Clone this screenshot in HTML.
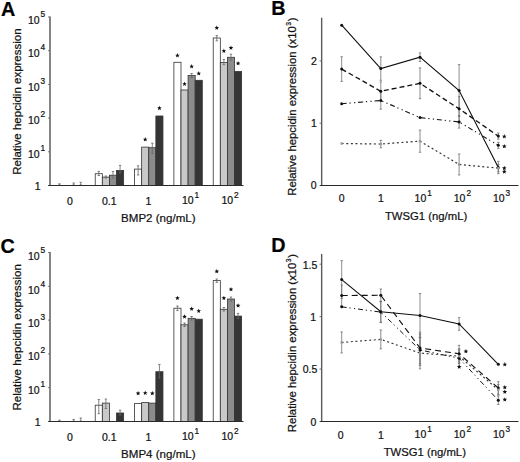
<!DOCTYPE html>
<html><head><meta charset="utf-8"><style>
html,body{margin:0;padding:0;background:#fff;}
svg{display:block;font-family:"Liberation Sans", sans-serif;}
text{stroke:#111;stroke-width:0.22px;paint-order:stroke;}
</style></head><body>
<svg width="520" height="462" viewBox="0 0 520 462">
<rect width="520" height="462" fill="#fff"/>
<text x="0.90" y="16.00" font-size="19.8" text-anchor="start" font-weight="bold" fill="#000" >A</text>
<text x="40.50" y="190.30" font-size="10.5" text-anchor="end" font-weight="normal" fill="#111" >1</text>
<line x1="48.00" y1="185.50" x2="50.00" y2="185.50" stroke="#555" stroke-width="0.8" />
<text x="39.60" y="158.00" font-size="10.5" text-anchor="end" font-weight="normal" fill="#111" >10</text>
<text x="40.50" y="151.10" font-size="8.3" text-anchor="start" font-weight="normal" fill="#111" >1</text>
<line x1="48.00" y1="151.80" x2="50.00" y2="151.80" stroke="#555" stroke-width="0.8" />
<text x="39.60" y="124.30" font-size="10.5" text-anchor="end" font-weight="normal" fill="#111" >10</text>
<text x="40.50" y="117.40" font-size="8.3" text-anchor="start" font-weight="normal" fill="#111" >2</text>
<line x1="48.00" y1="118.10" x2="50.00" y2="118.10" stroke="#555" stroke-width="0.8" />
<text x="39.60" y="90.60" font-size="10.5" text-anchor="end" font-weight="normal" fill="#111" >10</text>
<text x="40.50" y="83.70" font-size="8.3" text-anchor="start" font-weight="normal" fill="#111" >3</text>
<line x1="48.00" y1="84.40" x2="50.00" y2="84.40" stroke="#555" stroke-width="0.8" />
<text x="39.60" y="56.90" font-size="10.5" text-anchor="end" font-weight="normal" fill="#111" >10</text>
<text x="40.50" y="50.00" font-size="8.3" text-anchor="start" font-weight="normal" fill="#111" >4</text>
<line x1="48.00" y1="50.70" x2="50.00" y2="50.70" stroke="#555" stroke-width="0.8" />
<text x="39.60" y="24.10" font-size="10.5" text-anchor="end" font-weight="normal" fill="#111" >10</text>
<text x="40.50" y="17.20" font-size="8.3" text-anchor="start" font-weight="normal" fill="#111" >5</text>
<line x1="48.00" y1="17.00" x2="50.00" y2="17.00" stroke="#555" stroke-width="0.8" />
<text transform="translate(21.2,101.60) rotate(-90)" font-size="11.5" text-anchor="middle" fill="#111">Relative hepcidin expression</text>
<line x1="59.45" y1="183.80" x2="59.45" y2="185.00" stroke="#666" stroke-width="0.8" />
<line x1="58.25" y1="183.80" x2="60.65" y2="183.80" stroke="#666" stroke-width="0.8" />
<line x1="58.25" y1="185.00" x2="60.65" y2="185.00" stroke="#666" stroke-width="0.8" />
<line x1="73.65" y1="183.00" x2="73.65" y2="185.00" stroke="#666" stroke-width="0.8" />
<line x1="72.45" y1="183.00" x2="74.85" y2="183.00" stroke="#666" stroke-width="0.8" />
<line x1="72.45" y1="185.00" x2="74.85" y2="185.00" stroke="#666" stroke-width="0.8" />
<line x1="80.75" y1="182.30" x2="80.75" y2="185.00" stroke="#666" stroke-width="0.8" />
<line x1="79.55" y1="182.30" x2="81.95" y2="182.30" stroke="#666" stroke-width="0.8" />
<line x1="79.55" y1="185.00" x2="81.95" y2="185.00" stroke="#666" stroke-width="0.8" />
<rect x="95.23" y="173.70" width="7.10" height="11.80" fill="#ffffff" stroke="#333" stroke-width="0.8"/>
<line x1="98.78" y1="171.40" x2="98.78" y2="175.50" stroke="#666" stroke-width="0.8" />
<line x1="97.58" y1="171.40" x2="99.98" y2="171.40" stroke="#666" stroke-width="0.8" />
<line x1="97.58" y1="175.50" x2="99.98" y2="175.50" stroke="#666" stroke-width="0.8" />
<rect x="102.33" y="177.10" width="7.10" height="8.40" fill="#c9c9c9" stroke="#333" stroke-width="0.8"/>
<line x1="105.88" y1="176.00" x2="105.88" y2="178.00" stroke="#666" stroke-width="0.8" />
<line x1="104.68" y1="176.00" x2="107.08" y2="176.00" stroke="#666" stroke-width="0.8" />
<line x1="104.68" y1="178.00" x2="107.08" y2="178.00" stroke="#666" stroke-width="0.8" />
<rect x="109.43" y="175.20" width="7.10" height="10.30" fill="#8c8c8c" stroke="#333" stroke-width="0.8"/>
<line x1="112.98" y1="171.50" x2="112.98" y2="178.00" stroke="#666" stroke-width="0.8" />
<line x1="111.78" y1="171.50" x2="114.18" y2="171.50" stroke="#666" stroke-width="0.8" />
<line x1="111.78" y1="178.00" x2="114.18" y2="178.00" stroke="#666" stroke-width="0.8" />
<rect x="116.53" y="170.40" width="7.10" height="15.10" fill="#353535" stroke="#333" stroke-width="0.8"/>
<line x1="120.08" y1="165.40" x2="120.08" y2="173.00" stroke="#666" stroke-width="0.8" />
<line x1="118.88" y1="165.40" x2="121.28" y2="165.40" stroke="#666" stroke-width="0.8" />
<line x1="118.88" y1="173.00" x2="121.28" y2="173.00" stroke="#666" stroke-width="0.8" />
<rect x="134.56" y="169.10" width="7.10" height="16.40" fill="#ffffff" stroke="#333" stroke-width="0.8"/>
<line x1="138.11" y1="165.80" x2="138.11" y2="175.00" stroke="#666" stroke-width="0.8" />
<line x1="136.91" y1="165.80" x2="139.31" y2="165.80" stroke="#666" stroke-width="0.8" />
<line x1="136.91" y1="175.00" x2="139.31" y2="175.00" stroke="#666" stroke-width="0.8" />
<rect x="141.66" y="147.10" width="7.10" height="38.40" fill="#c9c9c9" stroke="#333" stroke-width="0.8"/>
<polygon points="145.21,137.10 145.84,138.63 147.49,138.76 146.24,139.83 146.62,141.44 145.21,140.58 143.80,141.44 144.18,139.83 142.93,138.76 144.58,138.63" fill="#111"/>
<rect x="148.76" y="147.70" width="7.10" height="37.80" fill="#8c8c8c" stroke="#333" stroke-width="0.8"/>
<line x1="152.31" y1="143.20" x2="152.31" y2="153.50" stroke="#666" stroke-width="0.8" />
<line x1="151.11" y1="143.20" x2="153.51" y2="143.20" stroke="#666" stroke-width="0.8" />
<line x1="151.11" y1="153.50" x2="153.51" y2="153.50" stroke="#666" stroke-width="0.8" />
<rect x="155.86" y="116.00" width="7.10" height="69.50" fill="#353535" stroke="#333" stroke-width="0.8"/>
<polygon points="159.41,105.80 160.04,107.33 161.69,107.46 160.44,108.53 160.82,110.14 159.41,109.28 158.00,110.14 158.38,108.53 157.13,107.46 158.78,107.33" fill="#111"/>
<rect x="173.89" y="62.30" width="7.10" height="123.20" fill="#ffffff" stroke="#333" stroke-width="0.8"/>
<polygon points="177.44,53.10 178.07,54.63 179.72,54.76 178.47,55.83 178.85,57.44 177.44,56.58 176.03,57.44 176.41,55.83 175.16,54.76 176.81,54.63" fill="#111"/>
<rect x="180.99" y="90.00" width="7.10" height="95.50" fill="#c9c9c9" stroke="#333" stroke-width="0.8"/>
<polygon points="184.54,81.60 185.17,83.13 186.82,83.26 185.57,84.33 185.95,85.94 184.54,85.08 183.13,85.94 183.51,84.33 182.26,83.26 183.91,83.13" fill="#111"/>
<rect x="188.09" y="75.40" width="7.10" height="110.10" fill="#8c8c8c" stroke="#333" stroke-width="0.8"/>
<line x1="191.64" y1="73.50" x2="191.64" y2="77.50" stroke="#666" stroke-width="0.8" />
<line x1="190.44" y1="73.50" x2="192.84" y2="73.50" stroke="#666" stroke-width="0.8" />
<line x1="190.44" y1="77.50" x2="192.84" y2="77.50" stroke="#666" stroke-width="0.8" />
<polygon points="191.64,64.10 192.27,65.63 193.92,65.76 192.67,66.83 193.05,68.44 191.64,67.58 190.23,68.44 190.61,66.83 189.36,65.76 191.01,65.63" fill="#111"/>
<rect x="195.19" y="80.30" width="7.10" height="105.20" fill="#353535" stroke="#333" stroke-width="0.8"/>
<polygon points="198.74,71.10 199.37,72.63 201.02,72.76 199.77,73.83 200.15,75.44 198.74,74.58 197.33,75.44 197.71,73.83 196.46,72.76 198.11,72.63" fill="#111"/>
<rect x="213.22" y="38.00" width="7.10" height="147.50" fill="#ffffff" stroke="#333" stroke-width="0.8"/>
<line x1="216.77" y1="35.60" x2="216.77" y2="40.80" stroke="#666" stroke-width="0.8" />
<line x1="215.57" y1="35.60" x2="217.97" y2="35.60" stroke="#666" stroke-width="0.8" />
<line x1="215.57" y1="40.80" x2="217.97" y2="40.80" stroke="#666" stroke-width="0.8" />
<polygon points="216.77,25.50 217.40,27.03 219.05,27.16 217.80,28.23 218.18,29.84 216.77,28.98 215.36,29.84 215.74,28.23 214.49,27.16 216.14,27.03" fill="#111"/>
<rect x="220.32" y="62.50" width="7.10" height="123.00" fill="#c9c9c9" stroke="#333" stroke-width="0.8"/>
<line x1="223.87" y1="59.50" x2="223.87" y2="64.70" stroke="#666" stroke-width="0.8" />
<line x1="222.67" y1="59.50" x2="225.07" y2="59.50" stroke="#666" stroke-width="0.8" />
<line x1="222.67" y1="64.70" x2="225.07" y2="64.70" stroke="#666" stroke-width="0.8" />
<polygon points="223.87,48.60 224.50,50.13 226.15,50.26 224.90,51.33 225.28,52.94 223.87,52.08 222.46,52.94 222.84,51.33 221.59,50.26 223.24,50.13" fill="#111"/>
<rect x="227.42" y="57.30" width="7.10" height="128.20" fill="#8c8c8c" stroke="#333" stroke-width="0.8"/>
<line x1="230.97" y1="54.20" x2="230.97" y2="60.00" stroke="#666" stroke-width="0.8" />
<line x1="229.77" y1="54.20" x2="232.17" y2="54.20" stroke="#666" stroke-width="0.8" />
<line x1="229.77" y1="60.00" x2="232.17" y2="60.00" stroke="#666" stroke-width="0.8" />
<polygon points="230.97,45.40 231.60,46.93 233.25,47.06 232.00,48.13 232.38,49.74 230.97,48.88 229.56,49.74 229.94,48.13 228.69,47.06 230.34,46.93" fill="#111"/>
<rect x="234.52" y="71.50" width="7.10" height="114.00" fill="#353535" stroke="#333" stroke-width="0.8"/>
<polygon points="238.07,61.00 238.70,62.53 240.35,62.66 239.10,63.73 239.48,65.34 238.07,64.48 236.66,65.34 237.04,63.73 235.79,62.66 237.44,62.53" fill="#111"/>
<line x1="50.00" y1="16.50" x2="50.00" y2="185.80" stroke="#707070" stroke-width="1.7" />
<line x1="48.30" y1="185.50" x2="243.50" y2="185.50" stroke="#2a2a2a" stroke-width="1.05" />
<text x="69.90" y="204.70" font-size="10.5" text-anchor="middle" font-weight="normal" fill="#111" >0</text>
<text x="109.30" y="204.70" font-size="10.5" text-anchor="middle" font-weight="normal" fill="#111" >0.1</text>
<text x="148.30" y="204.70" font-size="10.5" text-anchor="middle" font-weight="normal" fill="#111" >1</text>
<text x="193.60" y="204.20" font-size="10.5" text-anchor="end" font-weight="normal" fill="#111" >10</text>
<text x="194.60" y="198.00" font-size="8.3" text-anchor="start" font-weight="normal" fill="#111" >1</text>
<text x="233.10" y="204.20" font-size="10.5" text-anchor="end" font-weight="normal" fill="#111" >10</text>
<text x="234.10" y="198.00" font-size="8.3" text-anchor="start" font-weight="normal" fill="#111" >2</text>
<text x="158.30" y="221.90" font-size="11.55" text-anchor="middle" font-weight="normal" fill="#111" >BMP2 (ng/mL)</text>
<text x="0.50" y="253.00" font-size="19.8" text-anchor="start" font-weight="bold" fill="#000" >C</text>
<text x="40.50" y="426.30" font-size="10.5" text-anchor="end" font-weight="normal" fill="#111" >1</text>
<line x1="48.00" y1="421.50" x2="50.00" y2="421.50" stroke="#555" stroke-width="0.8" />
<text x="39.60" y="393.90" font-size="10.5" text-anchor="end" font-weight="normal" fill="#111" >10</text>
<text x="40.50" y="387.00" font-size="8.3" text-anchor="start" font-weight="normal" fill="#111" >1</text>
<line x1="48.00" y1="387.70" x2="50.00" y2="387.70" stroke="#555" stroke-width="0.8" />
<text x="39.60" y="360.10" font-size="10.5" text-anchor="end" font-weight="normal" fill="#111" >10</text>
<text x="40.50" y="353.20" font-size="8.3" text-anchor="start" font-weight="normal" fill="#111" >2</text>
<line x1="48.00" y1="353.90" x2="50.00" y2="353.90" stroke="#555" stroke-width="0.8" />
<text x="39.60" y="326.80" font-size="10.5" text-anchor="end" font-weight="normal" fill="#111" >10</text>
<text x="40.50" y="319.90" font-size="8.3" text-anchor="start" font-weight="normal" fill="#111" >3</text>
<line x1="48.00" y1="320.10" x2="50.00" y2="320.10" stroke="#555" stroke-width="0.8" />
<text x="39.60" y="294.10" font-size="10.5" text-anchor="end" font-weight="normal" fill="#111" >10</text>
<text x="40.50" y="287.20" font-size="8.3" text-anchor="start" font-weight="normal" fill="#111" >4</text>
<line x1="48.00" y1="286.30" x2="50.00" y2="286.30" stroke="#555" stroke-width="0.8" />
<text x="39.60" y="260.10" font-size="10.5" text-anchor="end" font-weight="normal" fill="#111" >10</text>
<text x="40.50" y="253.20" font-size="8.3" text-anchor="start" font-weight="normal" fill="#111" >5</text>
<line x1="48.00" y1="252.50" x2="50.00" y2="252.50" stroke="#555" stroke-width="0.8" />
<text transform="translate(21.2,337.35) rotate(-90)" font-size="11.5" text-anchor="middle" fill="#111">Relative hepcidin expression</text>
<line x1="59.45" y1="420.20" x2="59.45" y2="421.20" stroke="#666" stroke-width="0.8" />
<line x1="58.25" y1="420.20" x2="60.65" y2="420.20" stroke="#666" stroke-width="0.8" />
<line x1="58.25" y1="421.20" x2="60.65" y2="421.20" stroke="#666" stroke-width="0.8" />
<line x1="73.65" y1="419.50" x2="73.65" y2="421.20" stroke="#666" stroke-width="0.8" />
<line x1="72.45" y1="419.50" x2="74.85" y2="419.50" stroke="#666" stroke-width="0.8" />
<line x1="72.45" y1="421.20" x2="74.85" y2="421.20" stroke="#666" stroke-width="0.8" />
<line x1="80.75" y1="418.00" x2="80.75" y2="421.20" stroke="#666" stroke-width="0.8" />
<line x1="79.55" y1="418.00" x2="81.95" y2="418.00" stroke="#666" stroke-width="0.8" />
<line x1="79.55" y1="421.20" x2="81.95" y2="421.20" stroke="#666" stroke-width="0.8" />
<rect x="95.23" y="405.20" width="7.10" height="16.30" fill="#ffffff" stroke="#333" stroke-width="0.8"/>
<line x1="98.78" y1="399.50" x2="98.78" y2="413.70" stroke="#666" stroke-width="0.8" />
<line x1="97.58" y1="399.50" x2="99.98" y2="399.50" stroke="#666" stroke-width="0.8" />
<line x1="97.58" y1="413.70" x2="99.98" y2="413.70" stroke="#666" stroke-width="0.8" />
<rect x="102.33" y="403.10" width="7.10" height="18.40" fill="#c9c9c9" stroke="#333" stroke-width="0.8"/>
<line x1="105.88" y1="399.00" x2="105.88" y2="408.50" stroke="#666" stroke-width="0.8" />
<line x1="104.68" y1="399.00" x2="107.08" y2="399.00" stroke="#666" stroke-width="0.8" />
<line x1="104.68" y1="408.50" x2="107.08" y2="408.50" stroke="#666" stroke-width="0.8" />
<rect x="116.53" y="413.00" width="7.10" height="8.50" fill="#353535" stroke="#333" stroke-width="0.8"/>
<line x1="120.08" y1="410.20" x2="120.08" y2="415.00" stroke="#666" stroke-width="0.8" />
<line x1="118.88" y1="410.20" x2="121.28" y2="410.20" stroke="#666" stroke-width="0.8" />
<line x1="118.88" y1="415.00" x2="121.28" y2="415.00" stroke="#666" stroke-width="0.8" />
<rect x="134.56" y="403.60" width="7.10" height="17.90" fill="#ffffff" stroke="#333" stroke-width="0.8"/>
<polygon points="138.11,390.90 138.74,392.43 140.39,392.56 139.14,393.63 139.52,395.24 138.11,394.38 136.70,395.24 137.08,393.63 135.83,392.56 137.48,392.43" fill="#111"/>
<rect x="141.66" y="402.60" width="7.10" height="18.90" fill="#c9c9c9" stroke="#333" stroke-width="0.8"/>
<polygon points="145.21,390.60 145.84,392.13 147.49,392.26 146.24,393.33 146.62,394.94 145.21,394.08 143.80,394.94 144.18,393.33 142.93,392.26 144.58,392.13" fill="#111"/>
<rect x="148.76" y="403.10" width="7.10" height="18.40" fill="#8c8c8c" stroke="#333" stroke-width="0.8"/>
<polygon points="152.31,390.90 152.94,392.43 154.59,392.56 153.34,393.63 153.72,395.24 152.31,394.38 150.90,395.24 151.28,393.63 150.03,392.56 151.68,392.43" fill="#111"/>
<rect x="155.86" y="371.70" width="7.10" height="49.80" fill="#353535" stroke="#333" stroke-width="0.8"/>
<line x1="159.41" y1="364.40" x2="159.41" y2="378.00" stroke="#666" stroke-width="0.8" />
<line x1="158.21" y1="364.40" x2="160.61" y2="364.40" stroke="#666" stroke-width="0.8" />
<line x1="158.21" y1="378.00" x2="160.61" y2="378.00" stroke="#666" stroke-width="0.8" />
<rect x="173.89" y="308.20" width="7.10" height="113.30" fill="#ffffff" stroke="#333" stroke-width="0.8"/>
<line x1="177.44" y1="306.00" x2="177.44" y2="310.60" stroke="#666" stroke-width="0.8" />
<line x1="176.24" y1="306.00" x2="178.64" y2="306.00" stroke="#666" stroke-width="0.8" />
<line x1="176.24" y1="310.60" x2="178.64" y2="310.60" stroke="#666" stroke-width="0.8" />
<polygon points="177.44,295.70 178.07,297.23 179.72,297.36 178.47,298.43 178.85,300.04 177.44,299.18 176.03,300.04 176.41,298.43 175.16,297.36 176.81,297.23" fill="#111"/>
<rect x="180.99" y="324.80" width="7.10" height="96.70" fill="#c9c9c9" stroke="#333" stroke-width="0.8"/>
<line x1="184.54" y1="323.00" x2="184.54" y2="326.50" stroke="#666" stroke-width="0.8" />
<line x1="183.34" y1="323.00" x2="185.74" y2="323.00" stroke="#666" stroke-width="0.8" />
<line x1="183.34" y1="326.50" x2="185.74" y2="326.50" stroke="#666" stroke-width="0.8" />
<polygon points="184.54,314.30 185.17,315.83 186.82,315.96 185.57,317.03 185.95,318.64 184.54,317.78 183.13,318.64 183.51,317.03 182.26,315.96 183.91,315.83" fill="#111"/>
<rect x="188.09" y="318.30" width="7.10" height="103.20" fill="#8c8c8c" stroke="#333" stroke-width="0.8"/>
<line x1="191.64" y1="316.50" x2="191.64" y2="320.00" stroke="#666" stroke-width="0.8" />
<line x1="190.44" y1="316.50" x2="192.84" y2="316.50" stroke="#666" stroke-width="0.8" />
<line x1="190.44" y1="320.00" x2="192.84" y2="320.00" stroke="#666" stroke-width="0.8" />
<polygon points="191.64,306.40 192.27,307.93 193.92,308.06 192.67,309.13 193.05,310.74 191.64,309.88 190.23,310.74 190.61,309.13 189.36,308.06 191.01,307.93" fill="#111"/>
<rect x="195.19" y="319.20" width="7.10" height="102.30" fill="#353535" stroke="#333" stroke-width="0.8"/>
<polygon points="198.74,308.60 199.37,310.13 201.02,310.26 199.77,311.33 200.15,312.94 198.74,312.08 197.33,312.94 197.71,311.33 196.46,310.26 198.11,310.13" fill="#111"/>
<rect x="213.22" y="280.60" width="7.10" height="140.90" fill="#ffffff" stroke="#333" stroke-width="0.8"/>
<line x1="216.77" y1="279.00" x2="216.77" y2="282.40" stroke="#666" stroke-width="0.8" />
<line x1="215.57" y1="279.00" x2="217.97" y2="279.00" stroke="#666" stroke-width="0.8" />
<line x1="215.57" y1="282.40" x2="217.97" y2="282.40" stroke="#666" stroke-width="0.8" />
<polygon points="216.77,269.00 217.40,270.53 219.05,270.66 217.80,271.73 218.18,273.34 216.77,272.48 215.36,273.34 215.74,271.73 214.49,270.66 216.14,270.53" fill="#111"/>
<rect x="220.32" y="309.30" width="7.10" height="112.20" fill="#c9c9c9" stroke="#333" stroke-width="0.8"/>
<line x1="223.87" y1="307.50" x2="223.87" y2="311.00" stroke="#666" stroke-width="0.8" />
<line x1="222.67" y1="307.50" x2="225.07" y2="307.50" stroke="#666" stroke-width="0.8" />
<line x1="222.67" y1="311.00" x2="225.07" y2="311.00" stroke="#666" stroke-width="0.8" />
<polygon points="223.87,295.70 224.50,297.23 226.15,297.36 224.90,298.43 225.28,300.04 223.87,299.18 222.46,300.04 222.84,298.43 221.59,297.36 223.24,297.23" fill="#111"/>
<rect x="227.42" y="299.00" width="7.10" height="122.50" fill="#8c8c8c" stroke="#333" stroke-width="0.8"/>
<line x1="230.97" y1="297.00" x2="230.97" y2="301.00" stroke="#666" stroke-width="0.8" />
<line x1="229.77" y1="297.00" x2="232.17" y2="297.00" stroke="#666" stroke-width="0.8" />
<line x1="229.77" y1="301.00" x2="232.17" y2="301.00" stroke="#666" stroke-width="0.8" />
<polygon points="230.97,287.00 231.60,288.53 233.25,288.66 232.00,289.73 232.38,291.34 230.97,290.48 229.56,291.34 229.94,289.73 228.69,288.66 230.34,288.53" fill="#111"/>
<rect x="234.52" y="316.10" width="7.10" height="105.40" fill="#353535" stroke="#333" stroke-width="0.8"/>
<line x1="238.07" y1="313.40" x2="238.07" y2="318.50" stroke="#666" stroke-width="0.8" />
<line x1="236.87" y1="313.40" x2="239.27" y2="313.40" stroke="#666" stroke-width="0.8" />
<line x1="236.87" y1="318.50" x2="239.27" y2="318.50" stroke="#666" stroke-width="0.8" />
<polygon points="238.07,303.20 238.70,304.73 240.35,304.86 239.10,305.93 239.48,307.54 238.07,306.68 236.66,307.54 237.04,305.93 235.79,304.86 237.44,304.73" fill="#111"/>
<line x1="50.00" y1="252.00" x2="50.00" y2="421.80" stroke="#707070" stroke-width="1.7" />
<line x1="48.30" y1="421.50" x2="243.50" y2="421.50" stroke="#2a2a2a" stroke-width="1.05" />
<text x="69.90" y="440.70" font-size="10.5" text-anchor="middle" font-weight="normal" fill="#111" >0</text>
<text x="109.30" y="440.70" font-size="10.5" text-anchor="middle" font-weight="normal" fill="#111" >0.1</text>
<text x="148.30" y="440.70" font-size="10.5" text-anchor="middle" font-weight="normal" fill="#111" >1</text>
<text x="193.60" y="440.20" font-size="10.5" text-anchor="end" font-weight="normal" fill="#111" >10</text>
<text x="194.60" y="434.00" font-size="8.3" text-anchor="start" font-weight="normal" fill="#111" >1</text>
<text x="233.10" y="440.20" font-size="10.5" text-anchor="end" font-weight="normal" fill="#111" >10</text>
<text x="234.10" y="434.00" font-size="8.3" text-anchor="start" font-weight="normal" fill="#111" >2</text>
<text x="158.30" y="458.40" font-size="11.55" text-anchor="middle" font-weight="normal" fill="#111" >BMP4 (ng/mL)</text>
<text x="271.20" y="14.80" font-size="19.8" text-anchor="start" font-weight="bold" fill="#000" >B</text>
<text x="316.60" y="189.30" font-size="10.5" text-anchor="end" font-weight="normal" fill="#111" >0</text>
<line x1="319.50" y1="185.50" x2="321.50" y2="185.50" stroke="#555" stroke-width="0.8" />
<text x="316.80" y="127.00" font-size="10.5" text-anchor="end" font-weight="normal" fill="#111" >1</text>
<line x1="319.50" y1="123.20" x2="321.50" y2="123.20" stroke="#555" stroke-width="0.8" />
<text x="316.90" y="64.70" font-size="10.5" text-anchor="end" font-weight="normal" fill="#111" >2</text>
<line x1="319.50" y1="60.90" x2="321.50" y2="60.90" stroke="#555" stroke-width="0.8" />
<text transform="translate(295.5,106.65) rotate(-90)" font-size="11.35" text-anchor="middle" fill="#111">Relative hepcidin expression (x10<tspan font-size="6.8" dx="0.4" dy="-4.3">3</tspan><tspan dx="0.6" dy="4.3">)</tspan></text>
<line x1="380.80" y1="56.88" x2="380.80" y2="80.30" stroke="#707070" stroke-width="0.8" />
<line x1="379.60" y1="56.88" x2="382.00" y2="56.88" stroke="#707070" stroke-width="0.8" />
<line x1="379.60" y1="80.30" x2="382.00" y2="80.30" stroke="#707070" stroke-width="0.8" />
<line x1="420.00" y1="52.87" x2="420.00" y2="61.50" stroke="#707070" stroke-width="0.8" />
<line x1="418.80" y1="52.87" x2="421.20" y2="52.87" stroke="#707070" stroke-width="0.8" />
<line x1="418.80" y1="61.50" x2="421.20" y2="61.50" stroke="#707070" stroke-width="0.8" />
<line x1="459.10" y1="64.58" x2="459.10" y2="116.37" stroke="#707070" stroke-width="0.8" />
<line x1="457.90" y1="64.58" x2="460.30" y2="64.58" stroke="#707070" stroke-width="0.8" />
<line x1="457.90" y1="116.37" x2="460.30" y2="116.37" stroke="#707070" stroke-width="0.8" />
<line x1="498.30" y1="161.37" x2="498.30" y2="173.70" stroke="#707070" stroke-width="0.8" />
<line x1="497.10" y1="161.37" x2="499.50" y2="161.37" stroke="#707070" stroke-width="0.8" />
<line x1="497.10" y1="173.70" x2="499.50" y2="173.70" stroke="#707070" stroke-width="0.8" />
<line x1="341.70" y1="56.75" x2="341.70" y2="81.41" stroke="#707070" stroke-width="0.8" />
<line x1="340.50" y1="56.75" x2="342.90" y2="56.75" stroke="#707070" stroke-width="0.8" />
<line x1="340.50" y1="81.41" x2="342.90" y2="81.41" stroke="#707070" stroke-width="0.8" />
<line x1="380.80" y1="81.97" x2="380.80" y2="100.46" stroke="#707070" stroke-width="0.8" />
<line x1="379.60" y1="81.97" x2="382.00" y2="81.97" stroke="#707070" stroke-width="0.8" />
<line x1="379.60" y1="100.46" x2="382.00" y2="100.46" stroke="#707070" stroke-width="0.8" />
<line x1="420.00" y1="67.91" x2="420.00" y2="98.74" stroke="#707070" stroke-width="0.8" />
<line x1="418.80" y1="67.91" x2="421.20" y2="67.91" stroke="#707070" stroke-width="0.8" />
<line x1="418.80" y1="98.74" x2="421.20" y2="98.74" stroke="#707070" stroke-width="0.8" />
<line x1="459.10" y1="96.46" x2="459.10" y2="121.12" stroke="#707070" stroke-width="0.8" />
<line x1="457.90" y1="96.46" x2="460.30" y2="96.46" stroke="#707070" stroke-width="0.8" />
<line x1="457.90" y1="121.12" x2="460.30" y2="121.12" stroke="#707070" stroke-width="0.8" />
<line x1="498.30" y1="133.01" x2="498.30" y2="139.18" stroke="#707070" stroke-width="0.8" />
<line x1="497.10" y1="133.01" x2="499.50" y2="133.01" stroke="#707070" stroke-width="0.8" />
<line x1="497.10" y1="139.18" x2="499.50" y2="139.18" stroke="#707070" stroke-width="0.8" />
<line x1="380.80" y1="91.89" x2="380.80" y2="109.16" stroke="#707070" stroke-width="0.8" />
<line x1="379.60" y1="91.89" x2="382.00" y2="91.89" stroke="#707070" stroke-width="0.8" />
<line x1="379.60" y1="109.16" x2="382.00" y2="109.16" stroke="#707070" stroke-width="0.8" />
<line x1="459.10" y1="115.75" x2="459.10" y2="128.08" stroke="#707070" stroke-width="0.8" />
<line x1="457.90" y1="115.75" x2="460.30" y2="115.75" stroke="#707070" stroke-width="0.8" />
<line x1="457.90" y1="128.08" x2="460.30" y2="128.08" stroke="#707070" stroke-width="0.8" />
<line x1="498.30" y1="142.26" x2="498.30" y2="148.43" stroke="#707070" stroke-width="0.8" />
<line x1="497.10" y1="142.26" x2="499.50" y2="142.26" stroke="#707070" stroke-width="0.8" />
<line x1="497.10" y1="148.43" x2="499.50" y2="148.43" stroke="#707070" stroke-width="0.8" />
<line x1="380.80" y1="140.35" x2="380.80" y2="147.75" stroke="#707070" stroke-width="0.8" />
<line x1="379.60" y1="140.35" x2="382.00" y2="140.35" stroke="#707070" stroke-width="0.8" />
<line x1="379.60" y1="147.75" x2="382.00" y2="147.75" stroke="#707070" stroke-width="0.8" />
<line x1="420.00" y1="130.05" x2="420.00" y2="152.25" stroke="#707070" stroke-width="0.8" />
<line x1="418.80" y1="130.05" x2="421.20" y2="130.05" stroke="#707070" stroke-width="0.8" />
<line x1="418.80" y1="152.25" x2="421.20" y2="152.25" stroke="#707070" stroke-width="0.8" />
<line x1="459.10" y1="153.97" x2="459.10" y2="174.94" stroke="#707070" stroke-width="0.8" />
<line x1="457.90" y1="153.97" x2="460.30" y2="153.97" stroke="#707070" stroke-width="0.8" />
<line x1="457.90" y1="174.94" x2="460.30" y2="174.94" stroke="#707070" stroke-width="0.8" />
<line x1="498.30" y1="164.46" x2="498.30" y2="171.85" stroke="#707070" stroke-width="0.8" />
<line x1="497.10" y1="164.46" x2="499.50" y2="164.46" stroke="#707070" stroke-width="0.8" />
<line x1="497.10" y1="171.85" x2="499.50" y2="171.85" stroke="#707070" stroke-width="0.8" />
<polyline points="341.70,25.13 380.80,68.59 420.00,57.18 459.10,90.48 498.30,167.54" fill="none" stroke="#111" stroke-width="1.1" />
<circle cx="341.70" cy="25.13" r="1.5" fill="#111"/>
<circle cx="380.80" cy="68.59" r="1.5" fill="#111"/>
<circle cx="420.00" cy="57.18" r="1.5" fill="#111"/>
<circle cx="459.10" cy="90.48" r="1.5" fill="#111"/>
<circle cx="498.30" cy="167.54" r="1.5" fill="#111"/>
<polyline points="341.70,69.08 380.80,91.22 420.00,83.32 459.10,108.79 498.30,136.10" fill="none" stroke="#111" stroke-width="1.35" stroke-dasharray="5,3"/>
<circle cx="341.70" cy="69.08" r="1.5" fill="#111"/>
<circle cx="380.80" cy="91.22" r="1.5" fill="#111"/>
<circle cx="420.00" cy="83.32" r="1.5" fill="#111"/>
<circle cx="459.10" cy="108.79" r="1.5" fill="#111"/>
<circle cx="498.30" cy="136.10" r="1.5" fill="#111"/>
<polyline points="341.70,103.73 380.80,100.52 420.00,117.60 459.10,121.92 498.30,145.34" fill="none" stroke="#111" stroke-width="1.1" stroke-dasharray="5,2.8,1.2,3.4,1.2,2.9"/>
<circle cx="341.70" cy="103.73" r="1.5" fill="#111"/>
<circle cx="380.80" cy="100.52" r="1.5" fill="#111"/>
<circle cx="420.00" cy="117.60" r="1.5" fill="#111"/>
<circle cx="459.10" cy="121.92" r="1.5" fill="#111"/>
<circle cx="498.30" cy="145.34" r="1.5" fill="#111"/>
<polyline points="341.70,143.49 380.80,144.05 420.00,141.15 459.10,164.46 498.30,168.15" fill="none" stroke="#333" stroke-width="1.2" stroke-dasharray="2,2.6"/>
<rect x="340.50" y="142.29" width="2.4" height="2.4" fill="#999"/>
<rect x="379.60" y="142.85" width="2.4" height="2.4" fill="#999"/>
<rect x="418.80" y="139.95" width="2.4" height="2.4" fill="#999"/>
<rect x="457.90" y="163.26" width="2.4" height="2.4" fill="#999"/>
<rect x="497.10" y="166.95" width="2.4" height="2.4" fill="#999"/>
<polygon points="504.30,134.10 504.93,135.63 506.58,135.76 505.33,136.83 505.71,138.44 504.30,137.58 502.89,138.44 503.27,136.83 502.02,135.76 503.67,135.63" fill="#111"/>
<polygon points="504.30,143.90 504.93,145.43 506.58,145.56 505.33,146.63 505.71,148.24 504.30,147.38 502.89,148.24 503.27,146.63 502.02,145.56 503.67,145.43" fill="#111"/>
<polygon points="504.30,165.80 504.93,167.33 506.58,167.46 505.33,168.53 505.71,170.14 504.30,169.28 502.89,170.14 503.27,168.53 502.02,167.46 503.67,167.33" fill="#111"/>
<polygon points="504.30,169.30 504.93,170.83 506.58,170.96 505.33,172.03 505.71,173.64 504.30,172.78 502.89,173.64 503.27,172.03 502.02,170.96 503.67,170.83" fill="#111"/>
<line x1="321.65" y1="17.70" x2="321.65" y2="185.80" stroke="#5a5a5a" stroke-width="1.4" />
<line x1="320.20" y1="185.50" x2="518.50" y2="185.50" stroke="#2a2a2a" stroke-width="1.05" />
<text x="341.70" y="202.20" font-size="10.5" text-anchor="middle" font-weight="normal" fill="#111" >0</text>
<text x="380.80" y="202.20" font-size="10.5" text-anchor="middle" font-weight="normal" fill="#111" >1</text>
<text x="426.30" y="202.00" font-size="10.5" text-anchor="end" font-weight="normal" fill="#111" >10</text>
<text x="427.30" y="195.80" font-size="8.3" text-anchor="start" font-weight="normal" fill="#111" >1</text>
<text x="465.40" y="202.00" font-size="10.5" text-anchor="end" font-weight="normal" fill="#111" >10</text>
<text x="466.40" y="195.80" font-size="8.3" text-anchor="start" font-weight="normal" fill="#111" >2</text>
<text x="504.60" y="202.00" font-size="10.5" text-anchor="end" font-weight="normal" fill="#111" >10</text>
<text x="505.60" y="195.80" font-size="8.3" text-anchor="start" font-weight="normal" fill="#111" >3</text>
<text x="426.10" y="220.10" font-size="11.3" text-anchor="middle" font-weight="normal" fill="#111" >TWSG1 (ng/mL)</text>
<text x="271.20" y="251.80" font-size="19.8" text-anchor="start" font-weight="bold" fill="#000" >D</text>
<text x="316.30" y="425.80" font-size="10.5" text-anchor="end" font-weight="normal" fill="#111" >0</text>
<line x1="319.50" y1="421.50" x2="321.50" y2="421.50" stroke="#555" stroke-width="0.8" />
<text x="317.40" y="373.37" font-size="10.5" text-anchor="end" font-weight="normal" fill="#111" >0.5</text>
<line x1="319.50" y1="369.06" x2="321.50" y2="369.06" stroke="#555" stroke-width="0.8" />
<text x="316.00" y="320.93" font-size="10.5" text-anchor="end" font-weight="normal" fill="#111" >1</text>
<line x1="319.50" y1="316.63" x2="321.50" y2="316.63" stroke="#555" stroke-width="0.8" />
<text x="317.40" y="268.50" font-size="10.5" text-anchor="end" font-weight="normal" fill="#111" >1.5</text>
<line x1="319.50" y1="264.19" x2="321.50" y2="264.19" stroke="#555" stroke-width="0.8" />
<text transform="translate(295.5,343.10) rotate(-90)" font-size="11.35" text-anchor="middle" fill="#111">Relative hepcidin expression (x10<tspan font-size="6.8" dx="0.4" dy="-4.3">3</tspan><tspan dx="0.6" dy="4.3">)</tspan></text>
<line x1="341.70" y1="260.65" x2="341.70" y2="298.45" stroke="#707070" stroke-width="0.8" />
<line x1="340.50" y1="260.65" x2="342.90" y2="260.65" stroke="#707070" stroke-width="0.8" />
<line x1="340.50" y1="298.45" x2="342.90" y2="298.45" stroke="#707070" stroke-width="0.8" />
<line x1="380.80" y1="301.18" x2="380.80" y2="322.18" stroke="#707070" stroke-width="0.8" />
<line x1="379.60" y1="301.18" x2="382.00" y2="301.18" stroke="#707070" stroke-width="0.8" />
<line x1="379.60" y1="322.18" x2="382.00" y2="322.18" stroke="#707070" stroke-width="0.8" />
<line x1="420.00" y1="293.52" x2="420.00" y2="337.62" stroke="#707070" stroke-width="0.8" />
<line x1="418.80" y1="293.52" x2="421.20" y2="293.52" stroke="#707070" stroke-width="0.8" />
<line x1="418.80" y1="337.62" x2="421.20" y2="337.62" stroke="#707070" stroke-width="0.8" />
<line x1="459.10" y1="317.67" x2="459.10" y2="330.27" stroke="#707070" stroke-width="0.8" />
<line x1="457.90" y1="317.67" x2="460.30" y2="317.67" stroke="#707070" stroke-width="0.8" />
<line x1="457.90" y1="330.27" x2="460.30" y2="330.27" stroke="#707070" stroke-width="0.8" />
<line x1="341.70" y1="285.01" x2="341.70" y2="306.01" stroke="#707070" stroke-width="0.8" />
<line x1="340.50" y1="285.01" x2="342.90" y2="285.01" stroke="#707070" stroke-width="0.8" />
<line x1="340.50" y1="306.01" x2="342.90" y2="306.01" stroke="#707070" stroke-width="0.8" />
<line x1="380.80" y1="289.00" x2="380.80" y2="301.60" stroke="#707070" stroke-width="0.8" />
<line x1="379.60" y1="289.00" x2="382.00" y2="289.00" stroke="#707070" stroke-width="0.8" />
<line x1="379.60" y1="301.60" x2="382.00" y2="301.60" stroke="#707070" stroke-width="0.8" />
<line x1="420.00" y1="332.26" x2="420.00" y2="363.76" stroke="#707070" stroke-width="0.8" />
<line x1="418.80" y1="332.26" x2="421.20" y2="332.26" stroke="#707070" stroke-width="0.8" />
<line x1="418.80" y1="363.76" x2="421.20" y2="363.76" stroke="#707070" stroke-width="0.8" />
<line x1="459.10" y1="345.39" x2="459.10" y2="362.19" stroke="#707070" stroke-width="0.8" />
<line x1="457.90" y1="345.39" x2="460.30" y2="345.39" stroke="#707070" stroke-width="0.8" />
<line x1="457.90" y1="362.19" x2="460.30" y2="362.19" stroke="#707070" stroke-width="0.8" />
<line x1="498.30" y1="381.71" x2="498.30" y2="394.31" stroke="#707070" stroke-width="0.8" />
<line x1="497.10" y1="381.71" x2="499.50" y2="381.71" stroke="#707070" stroke-width="0.8" />
<line x1="497.10" y1="394.31" x2="499.50" y2="394.31" stroke="#707070" stroke-width="0.8" />
<line x1="380.80" y1="301.60" x2="380.80" y2="322.60" stroke="#707070" stroke-width="0.8" />
<line x1="379.60" y1="301.60" x2="382.00" y2="301.60" stroke="#707070" stroke-width="0.8" />
<line x1="379.60" y1="322.60" x2="382.00" y2="322.60" stroke="#707070" stroke-width="0.8" />
<line x1="420.00" y1="334.15" x2="420.00" y2="365.65" stroke="#707070" stroke-width="0.8" />
<line x1="418.80" y1="334.15" x2="421.20" y2="334.15" stroke="#707070" stroke-width="0.8" />
<line x1="418.80" y1="365.65" x2="421.20" y2="365.65" stroke="#707070" stroke-width="0.8" />
<line x1="459.10" y1="349.90" x2="459.10" y2="366.70" stroke="#707070" stroke-width="0.8" />
<line x1="457.90" y1="349.90" x2="460.30" y2="349.90" stroke="#707070" stroke-width="0.8" />
<line x1="457.90" y1="366.70" x2="460.30" y2="366.70" stroke="#707070" stroke-width="0.8" />
<line x1="498.30" y1="396.10" x2="498.30" y2="404.50" stroke="#707070" stroke-width="0.8" />
<line x1="497.10" y1="396.10" x2="499.50" y2="396.10" stroke="#707070" stroke-width="0.8" />
<line x1="497.10" y1="404.50" x2="499.50" y2="404.50" stroke="#707070" stroke-width="0.8" />
<line x1="341.70" y1="331.94" x2="341.70" y2="352.94" stroke="#707070" stroke-width="0.8" />
<line x1="340.50" y1="331.94" x2="342.90" y2="331.94" stroke="#707070" stroke-width="0.8" />
<line x1="340.50" y1="352.94" x2="342.90" y2="352.94" stroke="#707070" stroke-width="0.8" />
<line x1="380.80" y1="329.95" x2="380.80" y2="348.85" stroke="#707070" stroke-width="0.8" />
<line x1="379.60" y1="329.95" x2="382.00" y2="329.95" stroke="#707070" stroke-width="0.8" />
<line x1="379.60" y1="348.85" x2="382.00" y2="348.85" stroke="#707070" stroke-width="0.8" />
<line x1="420.00" y1="337.30" x2="420.00" y2="368.80" stroke="#707070" stroke-width="0.8" />
<line x1="418.80" y1="337.30" x2="421.20" y2="337.30" stroke="#707070" stroke-width="0.8" />
<line x1="418.80" y1="368.80" x2="421.20" y2="368.80" stroke="#707070" stroke-width="0.8" />
<line x1="459.10" y1="348.85" x2="459.10" y2="363.55" stroke="#707070" stroke-width="0.8" />
<line x1="457.90" y1="348.85" x2="460.30" y2="348.85" stroke="#707070" stroke-width="0.8" />
<line x1="457.90" y1="363.55" x2="460.30" y2="363.55" stroke="#707070" stroke-width="0.8" />
<line x1="498.30" y1="384.55" x2="498.30" y2="395.05" stroke="#707070" stroke-width="0.8" />
<line x1="497.10" y1="384.55" x2="499.50" y2="384.55" stroke="#707070" stroke-width="0.8" />
<line x1="497.10" y1="395.05" x2="499.50" y2="395.05" stroke="#707070" stroke-width="0.8" />
<polyline points="341.70,279.55 380.80,311.68 420.00,315.57 459.10,323.97 498.30,364.29" fill="none" stroke="#111" stroke-width="1.1" />
<circle cx="341.70" cy="279.55" r="1.5" fill="#111"/>
<circle cx="380.80" cy="311.68" r="1.5" fill="#111"/>
<circle cx="420.00" cy="315.57" r="1.5" fill="#111"/>
<circle cx="459.10" cy="323.97" r="1.5" fill="#111"/>
<circle cx="498.30" cy="364.29" r="1.5" fill="#111"/>
<polyline points="341.70,295.51 380.80,295.30 420.00,348.01 459.10,353.79 498.30,388.01" fill="none" stroke="#111" stroke-width="1.1" stroke-dasharray="6,4"/>
<circle cx="341.70" cy="295.51" r="1.5" fill="#111"/>
<circle cx="380.80" cy="295.30" r="1.5" fill="#111"/>
<circle cx="420.00" cy="348.01" r="1.5" fill="#111"/>
<circle cx="459.10" cy="353.79" r="1.5" fill="#111"/>
<circle cx="498.30" cy="388.01" r="1.5" fill="#111"/>
<polyline points="341.70,306.85 380.80,312.10 420.00,349.90 459.10,358.30 498.30,400.30" fill="none" stroke="#111" stroke-width="1.0" stroke-dasharray="5,2.8,1.2,3.4,1.2,2.9"/>
<circle cx="341.70" cy="306.85" r="1.5" fill="#111"/>
<circle cx="380.80" cy="312.10" r="1.5" fill="#111"/>
<circle cx="420.00" cy="349.90" r="1.5" fill="#111"/>
<circle cx="459.10" cy="358.30" r="1.5" fill="#111"/>
<circle cx="498.30" cy="400.30" r="1.5" fill="#111"/>
<polyline points="341.70,342.44 380.80,339.40 420.00,353.05 459.10,356.20 498.30,389.80" fill="none" stroke="#333" stroke-width="1.1" stroke-dasharray="2,2.6"/>
<rect x="340.50" y="341.25" width="2.4" height="2.4" fill="#999"/>
<rect x="379.60" y="338.20" width="2.4" height="2.4" fill="#999"/>
<rect x="418.80" y="351.85" width="2.4" height="2.4" fill="#999"/>
<rect x="457.90" y="355.00" width="2.4" height="2.4" fill="#999"/>
<rect x="497.10" y="388.60" width="2.4" height="2.4" fill="#999"/>
<polygon points="504.80,362.10 505.43,363.63 507.08,363.76 505.83,364.83 506.21,366.44 504.80,365.58 503.39,366.44 503.77,364.83 502.52,363.76 504.17,363.63" fill="#111"/>
<polygon points="504.80,384.90 505.43,386.43 507.08,386.56 505.83,387.63 506.21,389.24 504.80,388.38 503.39,389.24 503.77,387.63 502.52,386.56 504.17,386.43" fill="#111"/>
<polygon points="504.80,389.40 505.43,390.93 507.08,391.06 505.83,392.13 506.21,393.74 504.80,392.88 503.39,393.74 503.77,392.13 502.52,391.06 504.17,390.93" fill="#111"/>
<polygon points="504.80,397.20 505.43,398.73 507.08,398.86 505.83,399.93 506.21,401.54 504.80,400.68 503.39,401.54 503.77,399.93 502.52,398.86 504.17,398.73" fill="#111"/>
<polygon points="465.90,349.00 466.53,350.53 468.18,350.66 466.93,351.73 467.31,353.34 465.90,352.48 464.49,353.34 464.87,351.73 463.62,350.66 465.27,350.53" fill="#111"/>
<polygon points="459.20,364.50 459.83,366.03 461.48,366.16 460.23,367.23 460.61,368.84 459.20,367.98 457.79,368.84 458.17,367.23 456.92,366.16 458.57,366.03" fill="#111"/>
<line x1="321.65" y1="254.00" x2="321.65" y2="421.80" stroke="#5a5a5a" stroke-width="1.4" />
<line x1="320.20" y1="421.50" x2="518.50" y2="421.50" stroke="#2a2a2a" stroke-width="1.05" />
<text x="340.70" y="438.60" font-size="10.5" text-anchor="middle" font-weight="normal" fill="#111" >0</text>
<text x="380.80" y="438.60" font-size="10.5" text-anchor="middle" font-weight="normal" fill="#111" >1</text>
<text x="426.30" y="438.00" font-size="10.5" text-anchor="end" font-weight="normal" fill="#111" >10</text>
<text x="427.30" y="431.80" font-size="8.3" text-anchor="start" font-weight="normal" fill="#111" >1</text>
<text x="465.40" y="438.00" font-size="10.5" text-anchor="end" font-weight="normal" fill="#111" >10</text>
<text x="466.40" y="431.80" font-size="8.3" text-anchor="start" font-weight="normal" fill="#111" >2</text>
<text x="504.60" y="438.00" font-size="10.5" text-anchor="end" font-weight="normal" fill="#111" >10</text>
<text x="505.60" y="431.80" font-size="8.3" text-anchor="start" font-weight="normal" fill="#111" >3</text>
<text x="424.80" y="456.10" font-size="11.3" text-anchor="middle" font-weight="normal" fill="#111" >TWSG1 (ng/mL)</text>
</svg>
</body></html>
